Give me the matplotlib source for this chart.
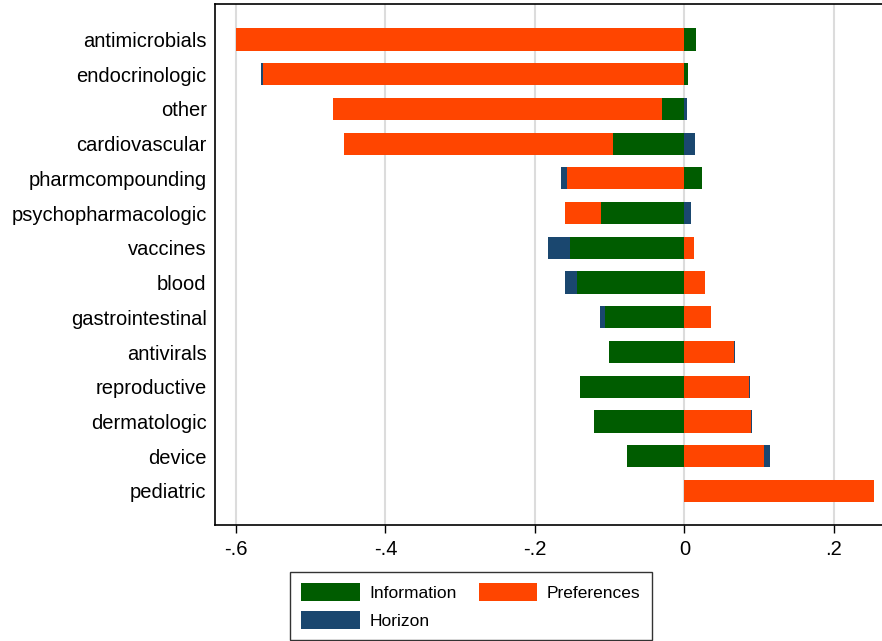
import matplotlib.pyplot as plt
from matplotlib.patches import Patch

plt.rcParams['font.family'] = ['Liberation Sans', 'DejaVu Sans']

categories = ['antimicrobials', 'endocrinologic', 'other', 'cardiovascular',
              'pharmcompounding', 'psychopharmacologic', 'vaccines', 'blood',
              'gastrointestinal', 'antivirals', 'reproductive', 'dermatologic',
              'device', 'pediatric']
information = [0.015, 0.005, -0.030, -0.096, 0.023, -0.111, -0.153, -0.143,
               -0.1065, -0.101, -0.139, -0.1205, -0.077, 0.0]
preferences = [-0.600, -0.564, -0.440, -0.359, -0.157, -0.049, 0.013, 0.027,
               0.036, 0.066, 0.086, 0.089, 0.106, 0.254]
horizon = [0.001, -0.002, 0.003, 0.014, -0.008, 0.0085, -0.029, -0.017,
           -0.007, 0.0012, 0.0015, 0.0015, 0.009, 0.0]

series = [('Information', information, '#005c00'),
          ('Preferences', preferences, '#ff4500'),
          ('Horizon', horizon, '#1a476f')]

fig = plt.figure(figsize=(8.82, 6.41), dpi=100)
ax = fig.add_axes([215 / 882, 1 - 525 / 641, 1 - 215 / 882, (525 - 4) / 641])

y = list(range(len(categories)))
pos_base = [0.0] * len(categories)
neg_base = [0.0] * len(categories)

# stack positives and negatives separately, Info -> Pref -> Horizon
for name, vals, col in series:
    lefts = []
    for i, v in enumerate(vals):
        if v >= 0:
            lefts.append(pos_base[i])
            pos_base[i] += v
        else:
            lefts.append(neg_base[i])
            neg_base[i] += v
    ax.barh(y, vals, left=lefts, height=0.64, color=col, edgecolor='none', zorder=3)

ax.set_ylim(len(categories) - 1 + 0.98, -1.02)
ax.set_xlim(-0.628, 0.2645)
ax.set_yticks(y)
ax.set_yticklabels(categories, fontsize=14.5)
ax.tick_params(axis='y', length=0, pad=6)

xt = [-0.6, -0.4, -0.2, 0, 0.2]
ax.set_xticks(xt)
ax.set_xticklabels(['-.6', '-.4', '-.2', '0', '.2'], fontsize=14.5)
ax.tick_params(axis='x', length=6, width=1, pad=5)

ax.grid(axis='x', color='#dcdcdc', linewidth=1.5, zorder=0)
ax.set_axisbelow(True)
for s in ['left', 'bottom', 'top']:
    ax.spines[s].set_linewidth(1.2)
ax.spines['right'].set_visible(False)

fs = 12.5
# column-major fill, so order gives rows: Information, Preferences / Horizon
by_name = {n: Patch(facecolor=c, edgecolor='none', label=n) for n, _, c in series}
handles = [by_name['Information'], by_name['Horizon'], by_name['Preferences']]
leg = fig.legend(handles=handles, ncol=2, loc='lower center',
                 bbox_to_anchor=(471 / 882, 1 / 641), fontsize=fs,
                 handlelength=42 / fs, handleheight=15.5 / fs,
                 handletextpad=7 / fs, columnspacing=16 / fs,
                 labelspacing=7 / fs, borderpad=8 / fs,
                 fancybox=False, frameon=True, borderaxespad=0)
leg.get_frame().set_edgecolor('black')
leg.get_frame().set_linewidth(1.0)

fig.savefig('out.png', dpi=100)
